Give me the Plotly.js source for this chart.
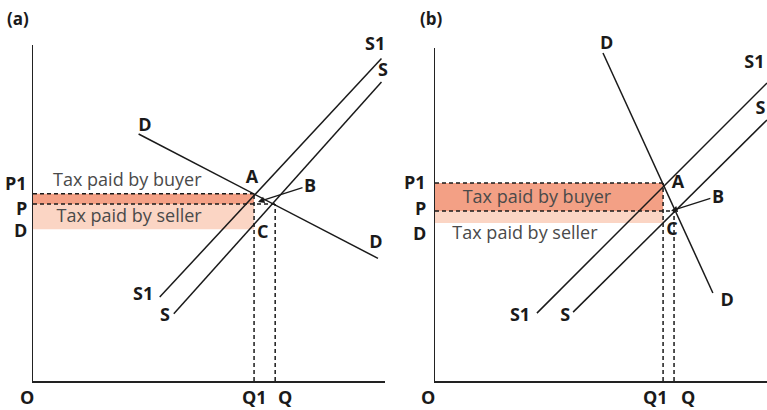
<!DOCTYPE html>
<html>
<head>
<meta charset="utf-8">
<script src="https://cdn.plot.ly/plotly-3.0.1.min.js"></script>
<style>html,body{margin:0;padding:0;background:#fff;}#chart{width:767px;height:410px;}</style>
</head>
<body>
<div id="chart"></div>
<script>
// ---------- Panel (a): elastic demand ----------
const aS1 = {q: [3.6, 9.9], p: [2.5, 9.6]};
const aS  = {q: [4.0, 9.9], p: [2.0, 8.9]};
const aD  = {q: [3.0, 9.8], p: [7.35, 3.65]};
const aLevels = {P1: 5.57, P: 5.27, D: 4.52, Q1: 6.28, Q: 6.88};
const aArrowHead = [6.39, 5.33];
const aLabels = {
  text: ["S1", "S", "D", "D", "S1", "S", "A", "C"],
  q:    [9.72, 9.94, 3.18, 9.74, 3.13, 3.75, 6.22, 6.53],
  p:    [9.98, 9.2, 7.56, 4.08, 2.53, 1.93, 6.04, 4.38]
};
const aB = [7.87, 5.83];
const aTax = {text: ["Tax paid by buyer", "Tax paid by seller"], q: [2.68, 2.73], p: [5.95, 4.86]};

// ---------- Panel (b): inelastic demand ----------
const bS1 = {q: [3.07, 10.0], p: [2.02, 8.87]};
const bS  = {q: [4.16, 10.0], p: [2.05, 7.77]};
const bD  = {q: [5.06, 8.37], p: [9.76, 2.62]};
const bLevels = {P1: 5.89, P: 5.06, D: 4.70, Q1: 6.87, Q: 7.2};
const bArrowHead = [7.11, 5.06];
const bLabels = {
  text: ["S1", "S", "A", "C", "D", "S1", "S"],
  q:    [9.62, 9.8, 7.32, 7.14, 8.80, 2.56, 3.92],
  p:    [9.46, 8.07, 5.89, 4.49, 2.38, 1.93, 1.93]
};
const bTopD = {text: "D", q: 5.18};
const bB = [8.52, 5.51];
const bTax = {text: ["Tax paid by buyer", "Tax paid by seller"], q: [3.07, 2.71], p: [5.42, 4.35]};

const levelNames = ["P1", "P", "D"];
const qtyNames = ["Q1", "Q"];

const FONT = "Open Sans, DejaVu Sans, sans-serif";
const INK = "#1a1a1a";
const DARK_FILL = "rgba(242,150,120,0.9)";
const LIGHT_FILL = "rgba(251,208,190,0.9)";
const BOLD = {family: FONT, size: 18, color: INK, weight: 700};

function panel(xa, ya, S1, S, D, L, labels, tax) {
  const tr = [];
  tr.push({x: [0, L.Q1, L.Q1, 0], y: [L.P, L.P, L.P1, L.P1], xaxis: xa, yaxis: ya,
    mode: "lines", fill: "toself", fillcolor: DARK_FILL, line: {width: 0}, hoverinfo: "skip"});
  tr.push({x: [0, L.Q1, L.Q1, 0], y: [L.D, L.D, L.P, L.P], xaxis: xa, yaxis: ya,
    mode: "lines", fill: "toself", fillcolor: LIGHT_FILL, line: {width: 0}, hoverinfo: "skip"});
  const dash = {color: INK, width: 1.5, dash: "4px,3px"};
  tr.push({x: [0, L.Q1], y: [L.P1, L.P1], xaxis: xa, yaxis: ya, mode: "lines", line: dash});
  tr.push({x: [0, L.Q], y: [L.P, L.P], xaxis: xa, yaxis: ya, mode: "lines", line: dash});
  tr.push({x: [L.Q1, L.Q1], y: [0, L.P1], xaxis: xa, yaxis: ya, mode: "lines", line: dash});
  tr.push({x: [L.Q, L.Q], y: [0, L.P], xaxis: xa, yaxis: ya, mode: "lines", line: dash});
  [S1, S, D].forEach(c => tr.push({x: c.q, y: c.p, xaxis: xa, yaxis: ya, mode: "lines",
    line: {color: INK, width: 1.5}}));
  tr.push({x: labels.q, y: labels.p, text: labels.text, xaxis: xa, yaxis: ya, mode: "text",
    cliponaxis: false, textfont: BOLD});
  tr.push({x: tax.q, y: tax.p, text: tax.text, xaxis: xa, yaxis: ya, mode: "text",
    cliponaxis: false, textfont: {family: FONT, size: 18, color: "#4a4a4a"}});
  return tr;
}

const data = [].concat(
  panel("x", "y", aS1, aS, aD, aLevels, aLabels, aTax),
  panel("x2", "y2", bS1, bS, bD, bLevels, bLabels, bTax)
);

const annotations = [];
function axisLabels(xr, yr, L, shiftsY, xshiftLeft, qShift, arrowHead, B, tag, tagX) {
  levelNames.forEach((n, i) => annotations.push({
    xref: xr + " domain", yref: yr, x: 0, y: L[n], text: n, showarrow: false,
    xanchor: "right", yanchor: "middle", xshift: xshiftLeft, yshift: shiftsY[i], font: BOLD}));
  qtyNames.forEach((n, i) => annotations.push({
    xref: xr, yref: yr + " domain", x: L[n], y: 0, text: n, showarrow: false,
    xanchor: "center", yanchor: "top", xshift: qShift[i], yshift: -2, font: BOLD}));
  annotations.push({xref: xr, yref: yr + " domain", x: 0, y: 0, text: "O", showarrow: false,
    xanchor: "center", yanchor: "top", xshift: qShift[2], yshift: -2, font: BOLD});
  annotations.push({xref: xr, yref: yr, x: arrowHead[0], y: arrowHead[1], axref: xr, ayref: yr,
    ax: B[0], ay: B[1], text: "B", showarrow: true, arrowhead: 2, arrowsize: 1, arrowwidth: 1.3,
    arrowcolor: INK, standoff: 0, font: BOLD});
  annotations.push({xref: xr + " domain", yref: "paper", x: tagX, y: 1, text: tag, showarrow: false,
    xanchor: "left", yanchor: "top", yshift: -5, font: {family: FONT, size: 17, color: INK, weight: 700}});
}
axisLabels("x", "y", aLevels, [11, -4, -1], -4, [0, 10, -6], aArrowHead, aB, "(a)", -0.08);
axisLabels("x2", "y2", bLevels, [1, 3, -10], -7, [-8, 14, -7], bArrowHead, bB, "(b)", -0.05);
annotations.push({xref: "x2", yref: "y2 domain", x: bTopD.q, y: 1, text: bTopD.text, showarrow: false,
  xanchor: "center", yanchor: "middle", yshift: 6, font: BOLD});

const axBase = {range: [0, 10], showline: true, linecolor: "#222", linewidth: 1.5,
  showgrid: false, zeroline: false, showticklabels: false, ticks: "", fixedrange: true};
const layout = {
  width: 767, height: 410, margin: {l: 0, r: 0, t: 0, b: 0},
  paper_bgcolor: "#fff", plot_bgcolor: "#fff", showlegend: false,
  xaxis: Object.assign({}, axBase, {domain: [33 / 767, 385 / 767], anchor: "y"}),
  yaxis: Object.assign({}, axBase, {domain: [29 / 410, 365 / 410], anchor: "x"}),
  xaxis2: Object.assign({}, axBase, {domain: [435 / 767, 1], anchor: "y2"}),
  yaxis2: Object.assign({}, axBase, {domain: [29 / 410, 362 / 410], range: [0, 333 / 33.6], anchor: "x2"}),
  annotations: annotations
};
Plotly.newPlot("chart", data, layout, {staticPlot: true, displayModeBar: false});
</script>
</body>
</html>
